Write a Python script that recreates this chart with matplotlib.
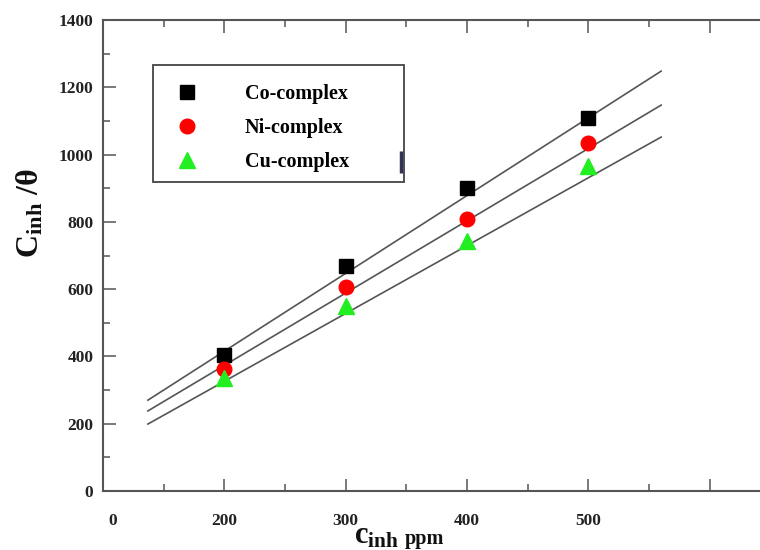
import matplotlib
matplotlib.use("Agg")
import matplotlib.pyplot as plt
from matplotlib.ticker import MultipleLocator
from matplotlib.patches import Rectangle
import matplotlib.transforms as mtransforms
import numpy as np

plt.rcParams['font.family'] = ['Liberation Serif', 'DejaVu Serif']
plt.rcParams['font.weight'] = 'bold'
plt.rcParams['mathtext.fontset'] = 'custom'
plt.rcParams['mathtext.rm'] = 'Liberation Serif:bold'
plt.rcParams['mathtext.bf'] = 'Liberation Serif:bold'
plt.rcParams['mathtext.it'] = 'Liberation Serif:bold'

# data
conc = [200, 300, 400, 500]
co_vals = [405, 668, 900, 1110]
ni_vals = [363, 606, 808, 1034]
cu_vals = [336, 550, 743, 966]

# fitted lines (end points)
fit_x = [137, 560]
co_fit = [270, 1248]
ni_fit = [238, 1147]
cu_fit = [199, 1052]

xtick_vals = [100, 200, 300, 400, 500, 600]
xtick_labels = ['0', '200', '300', '400', '500', '']
ytick_vals = [0, 200, 400, 600, 800, 1000, 1200, 1400]

axcol = '#555555'
W, H = 760, 550

fig = plt.figure(figsize=(7.6, 5.5), dpi=100)
ax = fig.add_axes([103/W, 59/H, 728/W, 471/H])

for yy in (co_fit, ni_fit, cu_fit):
    ax.plot(fit_x, yy, color='#555555', lw=1.2, zorder=2)

h1, = ax.plot(conc, co_vals, 's', color='black', ms=10, ls='none', zorder=3, label='Co-complex')
h2, = ax.plot(conc, ni_vals, 'o', color='red', ms=10.5, ls='none', zorder=3, label='Ni-complex')
h3, = ax.plot(conc, cu_vals, '^', color='#22ee22', ms=12, ls='none', zorder=3, label='Cu-complex')

ax.set_xlim(100, 700)
ax.set_ylim(0, 1400)
ax.set_xticks(xtick_vals)
ax.set_xticklabels(xtick_labels)
ax.set_yticks(ytick_vals)
ax.xaxis.set_minor_locator(MultipleLocator(50))
ax.yaxis.set_minor_locator(MultipleLocator(100))
ax.tick_params(which='both', direction='in', top=True, right=False, colors=axcol,
               labelcolor='#222222', labelsize=12.5, width=1.1)
ax.tick_params(which='major', length=9)
ax.tick_params(which='minor', length=5)
ax.tick_params(axis='x', which='major', pad=16)
ax.tick_params(axis='y', which='major', pad=7)
for lab in ax.get_xticklabels() + ax.get_yticklabels():
    lab.set_fontweight('bold')
# the "0" label sits a little right of the spine
zero_lab = ax.get_xticklabels()[0]
zero_lab.set_transform(zero_lab.get_transform() +
                       mtransforms.ScaledTranslation(10/100, 0, fig.dpi_scale_trans))
for sp in ax.spines.values():
    sp.set_color(axcol)
    sp.set_linewidth(1.5)

# legend box
def ax_xy(px, py):
    return ((px - 103) / 728, (491 - py) / 471)

bx0, by0 = ax_xy(153, 182)
bx1, by1 = ax_xy(404, 65)
ax.add_patch(Rectangle((bx0, by0), bx1 - bx0, by1 - by0, transform=ax.transAxes,
                       fill=True, facecolor='white', edgecolor='#444444', lw=1.3, zorder=4))
mx0, my0 = ax_xy(401.5, 173)
mx1, my1 = ax_xy(401.5, 151)
ax.plot([mx0, mx1], [my0, my1], transform=ax.transAxes, color='#333355', lw=2.5,
        zorder=5, solid_capstyle='butt')

lx, ly = ax_xy(172, 84)
leg = ax.legend(handles=[h1, h2, h3], loc='upper left', bbox_to_anchor=(lx, ly),
                frameon=False, prop={'weight': 'bold', 'size': 14.5},
                handletextpad=2.1, borderpad=0, labelspacing=0.7,
                handlelength=1.5, borderaxespad=0)
leg.set_zorder(6)

fig.text(30/W, 1 - 213/H, r'$\mathbf{C_{inh}}$ /θ', rotation=90, fontsize=23,
         ha='center', va='center', color='#111111')
fig.text(377/W, 1 - 536/H, r'$\mathbf{c_{inh}}$', fontsize=22,
         ha='center', va='center', color='#111111')
fig.text(424/W, 1 - 539/H, 'ppm', fontsize=14.5, fontweight='bold',
         ha='center', va='center', color='#111111')

fig.savefig('out.png', dpi=100)
